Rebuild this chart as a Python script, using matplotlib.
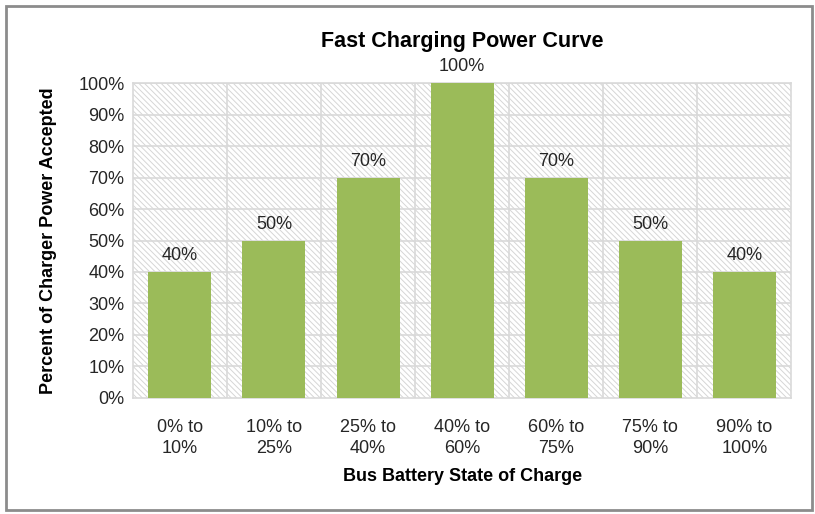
import numpy as np
import matplotlib.pyplot as plt
from matplotlib.patches import Rectangle
from matplotlib.ticker import PercentFormatter

# data
categories = ['0% to\n10%', '10% to\n25%', '25% to\n40%', '40% to\n60%',
              '60% to\n75%', '75% to\n90%', '90% to\n100%']
power_accepted = [40, 50, 70, 100, 70, 50, 40]

plt.rcParams['font.family'] = ['Liberation Sans', 'DejaVu Sans']
plt.rcParams['hatch.color'] = '#d6d6d6'
plt.rcParams['hatch.linewidth'] = 0.7

fig = plt.figure(figsize=(8.15, 5.14), dpi=100)
ax = fig.add_axes([0.163, 0.2257, 0.808, 0.6128])

x = np.arange(len(categories))

# hatched background of the plot area
ax.add_patch(Rectangle((0, 0), 1, 1, transform=ax.transAxes, facecolor='white',
                       edgecolor='#d6d6d6', hatch='\\' * 6, linewidth=0, zorder=0))

bars = ax.bar(x, power_accepted, width=0.67, color='#9bbb59', zorder=3)
for b, v in zip(bars, power_accepted):
    ax.text(b.get_x() + b.get_width() / 2, v + 2.5, f'{v}%', ha='center', va='bottom',
            fontsize=13, color='#262626', zorder=4)

ax.set_xlim(-0.5, len(categories) - 0.5)
ax.set_ylim(0, 100)
ax.set_yticks(np.arange(0, 101, 10))
ax.yaxis.set_major_formatter(PercentFormatter(decimals=0))
ax.set_xticks(x)
ax.set_xticklabels(categories, linespacing=1.35)
ax.tick_params(length=0, labelsize=13, colors='#262626', pad=6)
ax.tick_params(axis='x', pad=15)

# gridlines: horizontal at ticks, vertical at category boundaries
for y in np.arange(10, 101, 10):
    ax.axhline(y, color='#d9d9d9', lw=1.2, zorder=1)
for xb in np.arange(0.5, len(categories) - 0.5, 1):
    ax.axvline(xb, color='#d9d9d9', lw=1.2, zorder=1)
for s in ax.spines.values():
    s.set_color('#d9d9d9')
    s.set_linewidth(1.2)

ax.set_title('Fast Charging Power Curve', fontsize=15.5, fontweight='bold', pad=26)
ax.set_ylabel('Percent of Charger Power Accepted', fontsize=13, fontweight='bold', labelpad=15)
ax.set_xlabel('Bus Battery State of Charge', fontsize=13, fontweight='bold', labelpad=8)

# outer frame
fig.add_artist(Rectangle((6 / 815, 4 / 514), 806 / 815, 504 / 514, transform=fig.transFigure,
                         fill=False, edgecolor='#8c8c8c', linewidth=2))

fig.savefig('out.png', dpi=100)
